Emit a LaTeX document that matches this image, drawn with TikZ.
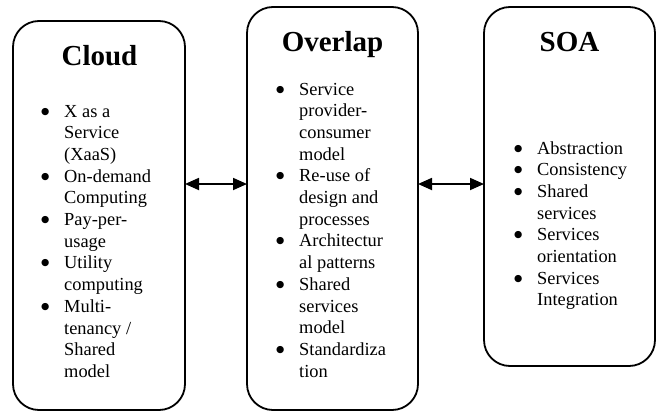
\documentclass[tikz,border=0pt]{standalone}
\usepackage{fontspec}
\setmainfont{Liberation Serif}
\newfontfamily\dejavu{DejaVu Sans}
\usetikzlibrary{arrows.meta}
\newcommand{\bul}{\raisebox{3pt}{\dejavu\fontsize{9.5}{10}\selectfont ●}}
\tikzset{
  panel/.style={draw=black, line width=1.8pt, rounded corners=26pt, inner sep=0pt, outer sep=0pt, fill=white},
  ttl/.style={anchor=base, inner sep=0pt, font=\fontsize{29}{33}\selectfont\bfseries},
  lst/.style={anchor=base west, inner sep=0pt, font=\fontsize{18.4}{21.7}\selectfont},
  link/.style={line width=1.8pt, {Triangle[length=14pt,width=12pt]}-{Triangle[length=14pt,width=12pt]}}
}
\begin{document}
\begin{tikzpicture}[x=1pt,y=-1pt]
\useasboundingbox (0,0) rectangle (663,412);
% panels
\node[panel, minimum width=172pt, minimum height=389pt] (cloud) at (99,215.5) {};
\node[panel, minimum width=171pt, minimum height=403pt] (overlap) at (332.5,208.5) {};
\node[panel, minimum width=171pt, minimum height=359pt] (soa) at (569.5,186.5) {};
% titles
\node[ttl] (tcloud) at (99.5,66) {Cloud};
\node[ttl] (toverlap) at (332.5,52) {Overlap};
\node[ttl] (tsoa) at (569.5,52) {SOA};
% lists
\node[lst] (lcloud) at (41,117) {\begin{tabular}[t]{@{}p{23pt}@{}l@{}}
\bul & X as a\\
 & Service\\
 & (XaaS)\\
\bul & On-demand\\
 & Computing\\
\bul & Pay-per-\\
 & usage\\
\bul & Utility\\
 & computing\\
\bul & Multi-\\
 & tenancy /\\
 & Shared\\
 & model
\end{tabular}};
\node[lst] (loverlap) at (276,95) {\begin{tabular}[t]{@{}p{23pt}@{}l@{}}
\bul & Service\\
 & provider-\\
 & consumer\\
 & model\\
\bul & Re-use of\\
 & design and\\
 & processes\\
\bul & Architectur\\
 & al patterns\\
\bul & Shared\\
 & services\\
 & model\\
\bul & Standardiza\\
 & tion
\end{tabular}};
\node[lst] (lsoa) at (514,154) {\begin{tabular}[t]{@{}p{23pt}@{}l@{}}
\bul & Abstraction\\
\bul & Consistency\\
\bul & Shared\\
 & services\\
\bul & Services\\
 & orientation\\
\bul & Services\\
 & Integration
\end{tabular}};
% connectors
\coordinate (ay) at (0,184);
\draw[link] (cloud.east |- ay) -- (overlap.west |- ay);
\draw[link] (overlap.east |- ay) -- (soa.west |- ay);
\end{tikzpicture}
\end{document}
